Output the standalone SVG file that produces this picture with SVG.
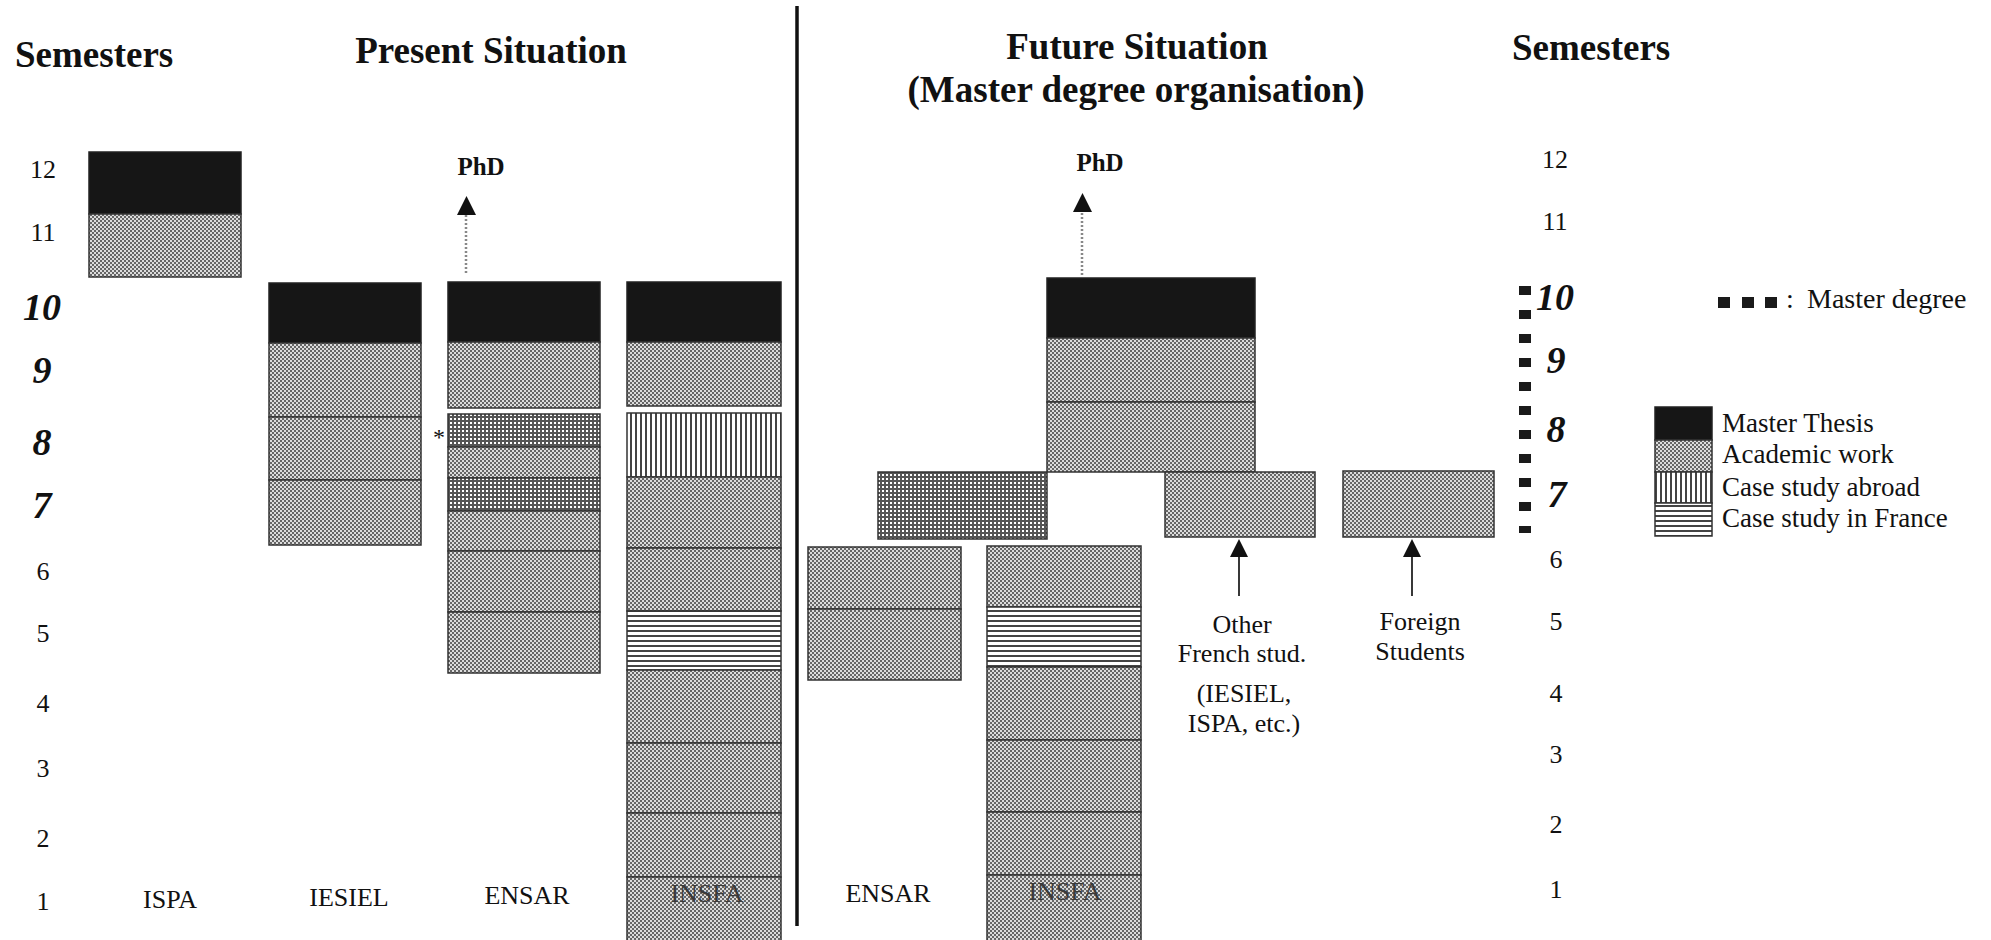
<svg xmlns="http://www.w3.org/2000/svg" width="1991" height="940" viewBox="0 0 1991 940">
<defs>
<pattern id="acad" width="4" height="4" patternUnits="userSpaceOnUse">
<rect width="4" height="4" fill="#dcdcdc"/>
<rect width="2" height="2" fill="#666"/>
<rect x="2" y="2" width="2" height="2" fill="#666"/>
</pattern>
<pattern id="grid" width="4" height="4" patternUnits="userSpaceOnUse">
<rect width="4" height="4" fill="#fff"/>
<rect width="2" height="4" fill="#555"/>
<rect width="4" height="2" fill="#555"/>
</pattern>
<pattern id="vstripe" width="5" height="5" patternUnits="userSpaceOnUse">
<rect width="5" height="5" fill="#fff"/>
<rect width="2" height="5" fill="#444"/>
</pattern>
<pattern id="hstripe" width="5" height="5" patternUnits="userSpaceOnUse">
<rect width="5" height="5" fill="#fff"/>
<rect width="5" height="2" fill="#444"/>
</pattern>
</defs>
<style>
text{font-family:"Liberation Serif","Times New Roman",serif;fill:#111}
.h{font-size:37px;font-weight:bold}
.n{font-size:26px;text-anchor:middle}
.bi{font-size:38px;font-weight:bold;font-style:italic;text-anchor:middle}
.lb{font-size:26px;text-anchor:middle}
.lg{font-size:27px}
.phd{font-size:25px;font-weight:bold;text-anchor:middle}
.in{fill:#3a3a3a}
.th{fill:#161616;stroke:#222;stroke-width:1.5}
.ac{fill:url(#acad);stroke:#333;stroke-width:1.5}
.gr{fill:url(#grid);stroke:#333;stroke-width:1.5}
.vs{fill:url(#vstripe);stroke:#333;stroke-width:1.5}
.hs{fill:url(#hstripe);stroke:#333;stroke-width:1.5}
.dot{stroke:#888;stroke-width:2.5;stroke-dasharray:2 2;fill:none}
.ln{stroke:#222;stroke-width:1.8;fill:none}
.ah{fill:#111}
</style>
<rect width="1991" height="940" fill="#fff"/>

<g id="headings">
<text class="h" x="15" y="67">Semesters</text>
<text class="h" x="491" y="63" text-anchor="middle">Present Situation</text>
<text class="h" x="1137" y="59" text-anchor="middle">Future Situation</text>
<text class="h" x="1136" y="102" text-anchor="middle">(Master degree organisation)</text>
<text class="h" x="1512" y="60">Semesters</text>
</g>

<g id="divider"><line x1="797" y1="6" x2="797" y2="926" stroke="#111" stroke-width="3.5"/></g>

<g id="axis-left">
<text class="n" x="43" y="178">12</text>
<text class="n" x="43" y="241">11</text>
<text class="bi" x="42" y="320">10</text>
<text class="bi" x="42" y="383">9</text>
<text class="bi" x="42" y="455">8</text>
<text class="bi" x="42" y="518">7</text>
<text class="n" x="43" y="580">6</text>
<text class="n" x="43" y="642">5</text>
<text class="n" x="43" y="712">4</text>
<text class="n" x="43" y="777">3</text>
<text class="n" x="43" y="847">2</text>
<text class="n" x="43" y="910">1</text>
</g>

<g id="axis-right">
<text class="n" x="1555" y="168">12</text>
<text class="n" x="1555" y="230">11</text>
<text class="bi" x="1555" y="310">10</text>
<text class="bi" x="1556" y="373">9</text>
<text class="bi" x="1556" y="442">8</text>
<text class="bi" x="1557" y="507">7</text>
<text class="n" x="1556" y="568">6</text>
<text class="n" x="1556" y="630">5</text>
<text class="n" x="1556" y="702">4</text>
<text class="n" x="1556" y="763">3</text>
<text class="n" x="1556" y="833">2</text>
<text class="n" x="1556" y="898">1</text>
<line x1="1525" y1="286" x2="1525" y2="533" stroke="#1a1a1a" stroke-width="12" stroke-dasharray="9 15"/>
</g>

<g id="ispa">
<rect class="th" x="89" y="152" width="152" height="62"/>
<rect class="ac" x="89" y="214" width="152" height="63"/>
<text class="lb" x="170" y="908">ISPA</text>
</g>

<g id="iesiel">
<rect class="th" x="269" y="283" width="152" height="60"/>
<rect class="ac" x="269" y="343" width="152" height="74"/>
<rect class="ac" x="269" y="417" width="152" height="63"/>
<rect class="ac" x="269" y="480" width="152" height="65"/>
<text class="lb" x="349" y="906">IESIEL</text>
</g>

<g id="ensar-present">
<rect class="th" x="448" y="282" width="152" height="60"/>
<rect class="ac" x="448" y="342" width="152" height="66"/>
<rect class="gr" x="448" y="414" width="152" height="33"/>
<rect class="ac" x="448" y="447" width="152" height="31"/>
<rect class="gr" x="448" y="478" width="152" height="33"/>
<rect class="ac" x="448" y="511" width="152" height="40"/>
<rect class="ac" x="448" y="551" width="152" height="61"/>
<rect class="ac" x="448" y="612" width="152" height="61"/>
<text x="439" y="445" font-size="24" text-anchor="middle">*</text>
<text class="lb" x="527" y="904">ENSAR</text>
</g>

<g id="insfa-present">
<rect class="th" x="627" y="282" width="154" height="60"/>
<rect class="ac" x="627" y="342" width="154" height="64"/>
<rect class="vs" x="627" y="413" width="154" height="64"/>
<rect class="ac" x="627" y="477" width="154" height="71"/>
<rect class="ac" x="627" y="548" width="154" height="63"/>
<rect class="hs" x="627" y="611" width="154" height="59"/>
<rect class="ac" x="627" y="670" width="154" height="73"/>
<rect class="ac" x="627" y="743" width="154" height="70"/>
<rect class="ac" x="627" y="813" width="154" height="64"/>
<rect class="ac" x="627" y="877" width="154" height="66"/>
<text class="lb in" x="707" y="902">INSFA</text>
</g>

<g id="master-future">
<rect class="th" x="1047" y="278" width="208" height="60"/>
<rect class="ac" x="1047" y="338" width="208" height="64"/>
<rect class="ac" x="1047" y="402" width="208" height="70"/>
</g>

<g id="case-future">
<rect class="gr" x="878" y="472" width="169" height="67"/>
</g>

<g id="other-french">
<rect class="ac" x="1165" y="472" width="150" height="65"/>
<text class="lb" x="1242" y="633">Other</text>
<text class="lb" x="1242" y="662">French stud.</text>
<text class="lb" x="1244" y="702">(IESIEL,</text>
<text class="lb" x="1244" y="732">ISPA, etc.)</text>
</g>

<g id="foreign">
<rect class="ac" x="1343" y="471" width="151" height="66"/>
<text class="lb" x="1420" y="630">Foreign</text>
<text class="lb" x="1420" y="660">Students</text>
</g>

<g id="ensar-future">
<rect class="ac" x="808" y="547" width="153" height="62"/>
<rect class="ac" x="808" y="609" width="153" height="71"/>
<text class="lb" x="888" y="902">ENSAR</text>
</g>

<g id="insfa-future">
<rect class="ac" x="987" y="546" width="154" height="61"/>
<rect class="hs" x="987" y="607" width="154" height="60"/>
<rect class="ac" x="987" y="667" width="154" height="73"/>
<rect class="ac" x="987" y="740" width="154" height="72"/>
<rect class="ac" x="987" y="812" width="154" height="63"/>
<rect class="ac" x="987" y="875" width="154" height="68"/>
<text class="lb in" x="1065" y="900">INSFA</text>
</g>

<g id="phd-labels">
<text class="phd" x="481" y="175">PhD</text>
<text class="phd" x="1100" y="171">PhD</text>
</g>

<g id="connectors">
<line class="dot" x1="466" y1="273" x2="466" y2="214"/>
<polygon class="ah" points="457,215 476,215 466.5,196"/>
<line class="dot" x1="1082" y1="275" x2="1082" y2="211"/>
<polygon class="ah" points="1073,212 1092,212 1082.5,193"/>
<line class="ln" x1="1239" y1="596" x2="1239" y2="556"/>
<polygon class="ah" points="1230,557 1248,557 1239,539"/>
<line class="ln" x1="1412" y1="596" x2="1412" y2="556"/>
<polygon class="ah" points="1403,557 1421,557 1412,539"/>
</g>

<g id="legend">
<rect x="1718" y="297" width="12" height="11" fill="#1a1a1a"/>
<rect x="1742" y="297" width="12" height="11" fill="#1a1a1a"/>
<rect x="1765" y="297" width="12" height="11" fill="#1a1a1a"/>
<text x="1786" y="308" font-size="28">:</text>
<text x="1807" y="308" font-size="28">Master degree</text>
<rect class="th" x="1655" y="407" width="57" height="33"/>
<rect class="ac" x="1655" y="440" width="57" height="32"/>
<rect class="vs" x="1655" y="472" width="57" height="31"/>
<rect class="hs" x="1655" y="503" width="57" height="33"/>
<text class="lg" x="1722" y="432">Master Thesis</text>
<text class="lg" x="1722" y="463">Academic work</text>
<text class="lg" x="1722" y="496">Case study abroad</text>
<text class="lg" x="1722" y="527">Case study in France</text>
</g>
</svg>
